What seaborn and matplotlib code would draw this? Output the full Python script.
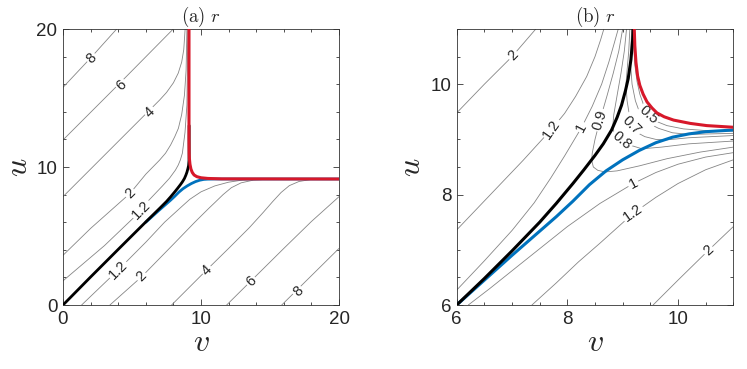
import matplotlib
matplotlib.use("Agg")
import matplotlib.pyplot as plt
import matplotlib.ticker as mticker
import seaborn as sns

# ---- panel (a): contour lines of r, points as (v, u) ----
a_up8 = [(0, 15.77), (2, 17.9), (3.89, 20)]
a_up6 = [(0, 11.96), (4, 15.96), (7.99, 20)]
a_up4 = [(0, 7.85), (3, 10.85), (6.35, 14.2), (7.0, 14.85), (7.5, 15.4), (8.0, 16.1), (8.35, 16.8),
         (8.6, 17.6), (8.75, 18.5), (8.85, 20)]
a_up2 = [(0, 3.6), (2, 5.55), (4.86, 8.09), (6, 9.48), (7.0, 10.5), (7.43, 11), (7.8, 11.6),
         (8.1, 12.2), (8.36, 12.8), (8.6, 13.8), (8.8, 15.2), (8.92, 17), (8.98, 20)]
a_up12 = [(0, 1.75), (3, 4.3), (5.7, 6.88), (6, 7.36), (7.2, 8.62), (7.72, 9.19), (8.15, 9.78),
          (8.35, 10.14), (8.5, 10.5), (8.65, 11), (8.84, 12.5), (8.98, 14.5), (9.05, 20)]
a_lo12 = [(1.35, 0), (4.0, 2.54), (6, 4.55), (7.36, 6), (8.59, 7.12), (9.19, 7.66), (10, 8.2),
          (11, 8.63), (12, 8.9), (13, 9.05), (14.5, 9.12), (20, 9.13)]
a_lo2 = [(3.4, 0), (5.7, 2.05), (8, 4.4), (9.55, 6), (10.55, 6.99), (11, 7.42), (11.6, 8.0),
         (12.2, 8.5), (12.9, 8.85), (13.8, 9.05), (15, 9.12), (20, 9.13)]
a_lo4 = [(7.87, 0), (10.41, 2.54), (12, 4.1), (13.5, 5.6), (14.5, 6.7), (15.2, 7.5), (15.8, 8.15),
         (16.4, 8.65), (17.1, 8.95), (18, 9.1), (20, 9.13)]
a_lo6 = [(11.86, 0), (16, 4.1), (18, 6.05), (19, 6.95), (20, 7.85)]
a_lo8 = [(15.85, 0), (20, 4.1)]

a_black = [(0, 0), (2, 2.03), (4, 4.03), (6, 6.02), (7, 7.0), (7.5, 7.5), (7.8, 7.84), (8.1, 8.2),
           (8.3, 8.45), (8.5, 8.71), (8.65, 8.92), (8.8, 9.17), (8.9, 9.4), (8.98, 9.62),
           (9.05, 9.88), (9.1, 10.1), (9.13, 10.45), (9.14, 11), (9.14, 13)]
a_blue = [(6, 6), (6.6, 6.54), (7, 6.9), (7.4, 7.25), (7.8, 7.6), (8.1, 7.88), (8.4, 8.18),
          (8.7, 8.43), (9.0, 8.63), (9.3, 8.8), (9.6, 8.94), (9.9, 9.04), (10.2, 9.1), (10.5, 9.12),
          (11, 9.13), (20, 9.13)]
a_red = [(9.13, 20), (9.13, 12), (9.14, 11), (9.16, 10.6), (9.2, 10.2), (9.27, 9.85), (9.37, 9.6),
         (9.5, 9.42), (9.7, 9.3), (10.0, 9.22), (10.5, 9.17), (11.5, 9.14), (20, 9.13)]

a_labels = [("8", 2.08, 17.88, 45), ("6", 4.25, 15.94, 45), ("4", 6.3, 14.0, 45),
            ("2", 4.86, 8.09, 45), ("1.2", 5.7, 6.88, 45), ("1.2", 4.0, 2.54, 45),
            ("2", 5.7, 2.05, 45), ("4", 10.41, 2.54, 45), ("6", 13.67, 1.69, 45),
            ("8", 17.05, 0.97, 45)]

# ---- panel (b): close-up of the corner ----
b_up2 = [(6, 9.48), (6.5, 10.0), (7.0, 10.5), (7.43, 11)]
b_up12 = [(6, 7.36), (6.4, 7.78), (6.8, 8.2), (7.2, 8.62), (7.5, 8.95), (7.72, 9.19), (7.95, 9.47),
          (8.15, 9.78), (8.35, 10.14), (8.5, 10.5), (8.6, 10.8), (8.66, 11)]
b_up1 = [(6, 6.27), (6.5, 6.8), (7, 7.35), (7.4, 7.85), (7.7, 8.3), (7.95, 8.7), (8.26, 9.22),
         (8.45, 9.6), (8.62, 10.0), (8.75, 10.4), (8.85, 10.75), (8.92, 11)]
b_09 = [(9.0, 11), (8.93, 10.6), (8.83, 10.2), (8.72, 9.8), (8.59, 9.35), (8.5, 9.0), (8.45, 8.75),
        (8.44, 8.62), (8.47, 8.5), (8.55, 8.44), (8.68, 8.41), (8.9, 8.43), (9.3, 8.52),
        (9.8, 8.65), (10.4, 8.77), (11, 8.86)]
b_08 = [(9.07, 11), (9.03, 10.6), (8.97, 10.2), (8.9, 9.8), (8.84, 9.45), (8.82, 9.22),
        (8.86, 9.08), (8.98, 8.98), (9.12, 8.9), (9.35, 8.83), (9.7, 8.86), (10.2, 8.92),
        (11, 8.97)]
b_07 = [(9.13, 11), (9.11, 10.6), (9.08, 10.25), (9.06, 10.0), (9.08, 9.7), (9.12, 9.45),
        (9.16, 9.25), (9.25, 9.13), (9.4, 9.05), (9.6, 9.0), (9.78, 8.99), (10.2, 9.03),
        (11, 9.07)]
b_06 = [(9.16, 11), (9.15, 10.6), (9.14, 10.4), (9.17, 10.0), (9.23, 9.7), (9.32, 9.45),
        (9.45, 9.3), (9.65, 9.2), (9.9, 9.12), (10.2, 9.09), (10.6, 9.1), (11, 9.11)]
b_05 = [(9.2, 11), (9.2, 10.7), (9.22, 10.35), (9.26, 10.05), (9.31, 9.82), (9.38, 9.62),
        (9.47, 9.44), (9.6, 9.33), (9.8, 9.25), (10.1, 9.19), (10.5, 9.16), (11, 9.15)]
b_lo1 = [(6.21, 6), (6.6, 6.3), (7, 6.62), (7.5, 7.02), (8, 7.42), (8.59, 7.84), (9.19, 8.2),
         (9.6, 8.4), (10, 8.55), (10.5, 8.68), (11, 8.76)]
b_lo12 = [(7.36, 6), (7.8, 6.4), (8.2, 6.78), (8.59, 7.12), (9.19, 7.66), (9.6, 7.95), (10, 8.2),
          (10.5, 8.45), (11, 8.63)]
b_lo2 = [(9.55, 6), (10.0, 6.45), (10.55, 6.99), (11, 7.42)]

b_black = [(6, 6), (6.5, 6.48), (7, 6.98), (7.5, 7.5), (7.8, 7.84), (8.1, 8.2), (8.3, 8.45),
           (8.5, 8.71), (8.65, 8.92), (8.8, 9.17), (8.9, 9.4), (8.98, 9.62), (9.05, 9.88),
           (9.1, 10.1), (9.15, 10.45), (9.18, 10.8), (9.19, 11)]
b_blue = [(6, 6), (6.3, 6.27), (6.6, 6.54), (7, 6.9), (7.4, 7.25), (7.8, 7.6), (8.1, 7.88),
          (8.4, 8.18), (8.7, 8.43), (9.0, 8.63), (9.3, 8.8), (9.6, 8.94), (9.9, 9.04),
          (10.2, 9.1), (10.5, 9.14), (11, 9.17)]
b_red = [(9.21, 11), (9.22, 10.7), (9.24, 10.4), (9.27, 10.15), (9.31, 9.98), (9.37, 9.82),
         (9.44, 9.68), (9.53, 9.57), (9.62, 9.48), (9.75, 9.41), (9.92, 9.35), (10.22, 9.29),
         (10.52, 9.25), (11, 9.22)]

b_labels = [("2", 7.02, 10.52, 46), ("1.2", 7.72, 9.19, 55), ("1", 8.26, 9.22, 62),
            ("0.9", 8.59, 9.35, 72), ("0.8", 8.98, 8.98, -40), ("0.7", 9.16, 9.25, -45),
            ("0.5", 9.47, 9.44, -42), ("1", 9.19, 8.2, 28), ("1.2", 9.19, 7.66, 35),
            ("2", 10.55, 6.99, 43)]

GRAY = "#858585"
BLACK = "#000000"
BLUE = "#0072bd"
RED = "#d7182a"

sns.set_style("ticks")
plt.rcParams["font.family"] = ["Liberation Sans", "DejaVu Sans"]
plt.rcParams["mathtext.fontset"] = "cm"

fig = plt.figure(figsize=(7.47, 3.69), dpi=100)
ax_a = fig.add_axes([63 / 747, 64 / 369, 276 / 747, 276 / 369])
ax_b = fig.add_axes([456.7 / 747, 64 / 369, 276.6 / 747, 276 / 369])


def draw(ax, pts, color, lw, z):
    vs = [p[0] for p in pts]
    us = [p[1] for p in pts]
    sns.lineplot(x=vs, y=us, sort=False, estimator=None, color=color, lw=lw, ax=ax, zorder=z)


def label(ax, txt, v, u, rot):
    ax.text(v, u, txt, fontsize=10.5, ha="center", va="center", rotation=rot,
            rotation_mode="anchor", zorder=2,
            bbox=dict(boxstyle="square,pad=0.1", fc="white", ec="none"))


for pts in [a_up8, a_up6, a_up4, a_up2, a_up12, a_lo12, a_lo2, a_lo4, a_lo6, a_lo8]:
    draw(ax_a, pts, GRAY, 0.6, 1)
for t, v, u, r in a_labels:
    label(ax_a, t, v, u, r)
draw(ax_a, a_blue, BLUE, 2.0, 3)
draw(ax_a, a_black, BLACK, 2.0, 4)
draw(ax_a, a_red, RED, 2.2, 5)

for pts in [b_up2, b_up12, b_up1, b_09, b_08, b_07, b_06, b_05, b_lo1, b_lo12, b_lo2]:
    draw(ax_b, pts, GRAY, 0.6, 1)
for t, v, u, r in b_labels:
    label(ax_b, t, v, u, r)
draw(ax_b, b_blue, BLUE, 2.2, 3)
draw(ax_b, b_black, BLACK, 2.2, 4)
draw(ax_b, b_red, RED, 2.2, 5)

for ax, lim, major, minor, ttl in [(ax_a, (0, 20), [0, 10, 20], 2, r"$\mathrm{(a)}\ r$"),
                                   (ax_b, (6, 11), [6, 8, 10], 0.5, r"$\mathrm{(b)}\ r$")]:
    ax.set_xlim(lim)
    ax.set_ylim(lim)
    ax.set_xticks(major)
    ax.set_yticks(major)
    ax.xaxis.set_minor_locator(mticker.MultipleLocator(minor))
    ax.yaxis.set_minor_locator(mticker.MultipleLocator(minor))
    ax.tick_params(which="both", direction="in", top=True, right=True, labelsize=13.5,
                   color="#333333", width=0.6)
    ax.tick_params(which="major", length=4.5, pad=4)
    ax.tick_params(which="minor", length=2.5)
    for s in ax.spines.values():
        s.set_linewidth(0.6)
        s.set_color("#333333")
    ax.set_xlabel(r"$v$", fontsize=23, labelpad=0)
    ax.set_ylabel(r"$u$", fontsize=23, labelpad=2)
    ax.set_title(ttl, fontsize=13.5, pad=5)

fig.savefig("out.png", dpi=100)
